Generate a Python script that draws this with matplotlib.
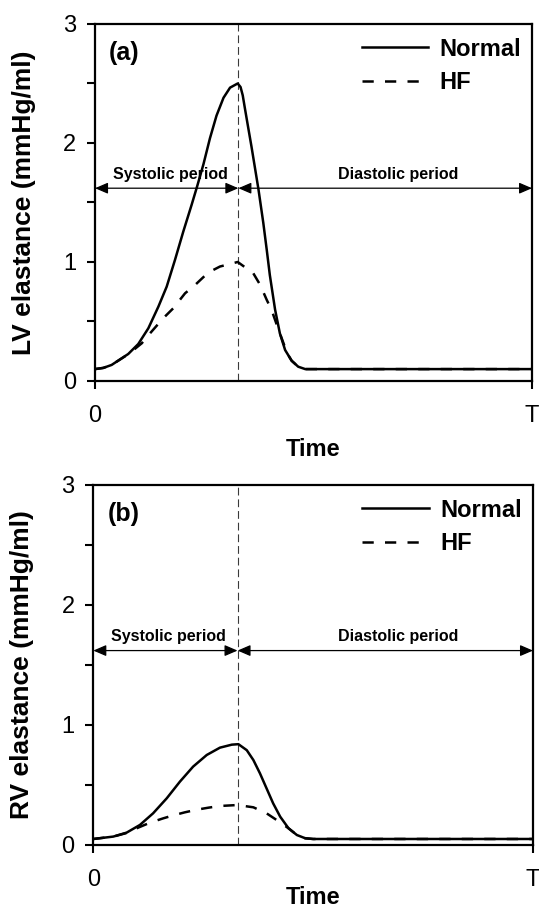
import numpy as np
import matplotlib
matplotlib.use("Agg")
import matplotlib.pyplot as plt

plt.rcParams["font.family"] = ["Liberation Sans", "DejaVu Sans"]

# time as fraction of the cardiac cycle T, elastance in mmHg/ml
t_lv_normal = [0, 0.019, 0.038, 0.076, 0.099, 0.122, 0.145, 0.164, 0.183, 0.202, 0.221,
               0.234, 0.248, 0.263, 0.278, 0.294, 0.309, 0.3265, 0.333, 0.338, 0.343,
               0.350, 0.358, 0.366, 0.374, 0.385, 0.393, 0.400, 0.412, 0.423, 0.435,
               0.450, 0.465, 0.481, 0.490, 1.0]
e_lv_normal = [0.10, 0.11, 0.135, 0.227, 0.311, 0.443, 0.625, 0.793, 1.018, 1.256, 1.48,
               1.64, 1.82, 2.04, 2.23, 2.38, 2.465, 2.50, 2.47, 2.40, 2.29,
               2.14, 1.97, 1.79, 1.61, 1.33, 1.10, 0.89, 0.60, 0.40, 0.26,
               0.17, 0.12, 0.10, 0.10, 0.10]

t_lv_hf = [0, 0.019, 0.038, 0.076, 0.107, 0.126, 0.156, 0.179, 0.206, 0.229, 0.259,
           0.286, 0.3265, 0.362, 0.378, 0.393, 0.404, 0.416, 0.431, 0.440, 0.450,
           0.465, 0.481, 0.490, 1.0]
e_lv_hf = [0.10, 0.11, 0.135, 0.225, 0.317, 0.401, 0.527, 0.611, 0.737, 0.807, 0.911,
           0.962, 1.00, 0.906, 0.807, 0.681, 0.597, 0.471, 0.32, 0.23, 0.17,
           0.12, 0.10, 0.10, 0.10]

t_rv_normal = [0, 0.0455, 0.0758, 0.106, 0.136, 0.167, 0.197, 0.227, 0.258, 0.288,
               0.315, 0.330, 0.349, 0.364, 0.379, 0.394, 0.409, 0.425, 0.444, 0.463,
               0.482, 0.50, 1.0]
e_rv_normal = [0.05, 0.07, 0.103, 0.167, 0.264, 0.389, 0.528, 0.653, 0.75, 0.811,
               0.836, 0.84, 0.79, 0.708, 0.597, 0.472, 0.347, 0.236, 0.139, 0.083,
               0.056, 0.05, 0.05]

t_rv_hf = [0, 0.0455, 0.0758, 0.0985, 0.129, 0.159, 0.182, 0.208, 0.235, 0.262, 0.288,
           0.328, 0.364, 0.394, 0.417, 0.444, 0.463, 0.482, 0.50, 1.0]
e_rv_hf = [0.05, 0.07, 0.10, 0.139, 0.186, 0.222, 0.247, 0.272, 0.294, 0.311, 0.325,
           0.333, 0.314, 0.264, 0.208, 0.139, 0.083, 0.056, 0.05, 0.05]

t_sys_end = 0.328
arrow_y = 1.62
xtick_pos = [0, 1]
xtick_lab = ["0", "T"]

panels = [
    dict(rect=[0.1763, 0.5804, 0.8108, 0.3932], tag="(a)", ylab="LV elastance (mmHg/ml)",
         tn=t_lv_normal, en=e_lv_normal, th=t_lv_hf, eh=e_lv_hf, xpad=8),
    dict(rect=[0.1731, 0.0694, 0.8158, 0.3965], tag="(b)", ylab="RV elastance (mmHg/ml)",
         tn=t_rv_normal, en=e_rv_normal, th=t_rv_hf, eh=e_rv_hf, xpad=-3.5),
]

fig = plt.figure(figsize=(5.39, 9.08), dpi=100)

for p in panels:
    ax = fig.add_axes(p["rect"])
    ax.plot(p["tn"], p["en"], "-", c="k", lw=1.8, label="Normal", zorder=3)
    ax.plot(p["th"], p["eh"], c="k", lw=1.8, ls=(0, (4.5, 4.5)), label="HF", zorder=3)
    ax.axvline(t_sys_end, c="#3a3a3a", lw=0.8, ls=(0, (7, 3.5)), zorder=2)

    arr = dict(arrowstyle="<|-|>,head_length=0.65,head_width=0.28", color="k", lw=0.9,
               shrinkA=0, shrinkB=0, mutation_scale=12)
    ax.annotate("", xy=(0, arrow_y), xytext=(t_sys_end, arrow_y), arrowprops=arr)
    ax.annotate("", xy=(t_sys_end, arrow_y), xytext=(1, arrow_y), arrowprops=arr)
    ax.text(0.172, 1.70, "Systolic period", ha="center", va="baseline",
            fontsize=11.5, fontweight="bold")
    ax.text(0.693, 1.70, "Diastolic period", ha="center", va="baseline",
            fontsize=11.5, fontweight="bold")
    ax.text(0.032, 2.76, p["tag"], ha="left", va="center", fontsize=18, fontweight="bold")

    ax.set_xlim(0, 1)
    ax.set_ylim(0, 3)
    ax.set_xticks(xtick_pos)
    ax.set_xticklabels(xtick_lab)
    ax.set_yticks([0, 1, 2, 3])
    ax.set_yticks([0.5, 1.5, 2.5], minor=True)
    ax.tick_params(axis="both", which="both", direction="out", length=5.5, width=1.5,
                   labelsize=17)
    ax.tick_params(axis="y", pad=8)
    ax.tick_params(axis="x", pad=12)
    for s in ax.spines.values():
        s.set_linewidth(1.6)

    ax.set_ylabel(p["ylab"], fontsize=19, fontweight="bold")
    ax.yaxis.set_label_coords(-0.135, 0.5)
    ax.set_xlabel("Time", fontsize=17, fontweight="bold", labelpad=p["xpad"])

    ax.legend(loc="upper right", bbox_to_anchor=(0.975, 0.962), frameon=False,
              prop=dict(size=17, weight="bold"), handlelength=2.8, handletextpad=0.5,
              labelspacing=0.45, borderpad=0, borderaxespad=0)

fig.savefig("out.png", dpi=100)
